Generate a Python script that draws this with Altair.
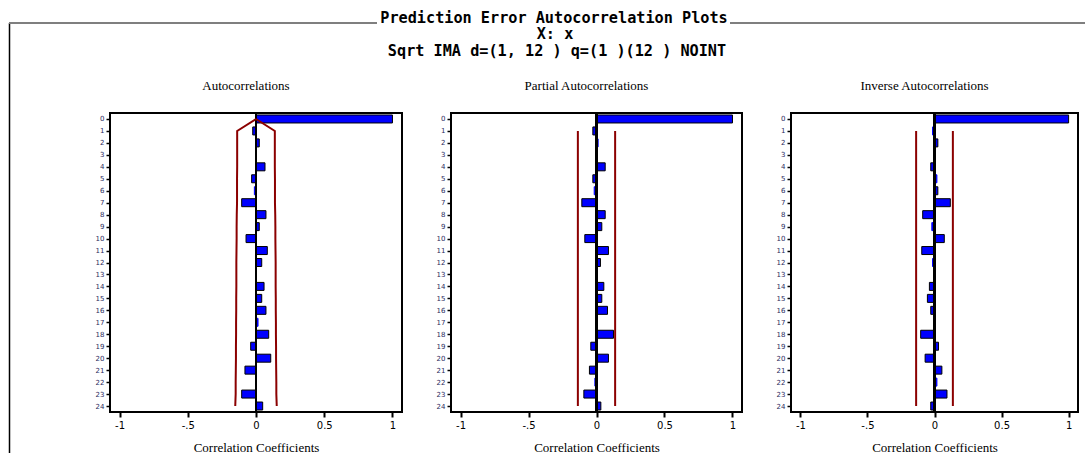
import altair as alt
import pandas as pd

# ---------------- data ----------------
lags = list(range(25))
acf_values = [1.0, -0.024, 0.024, 0.003, 0.066, -0.032, -0.012, -0.105, 0.073, 0.024,
              -0.073, 0.083, 0.042, 0.003, 0.059, 0.042, 0.073, 0.015, 0.093, -0.039,
              0.108, -0.081, 0.003, -0.105, 0.049]
pacf_values = [1.0, -0.027, 0.012, 0.003, 0.064, -0.027, -0.017, -0.108, 0.064, 0.039,
               -0.086, 0.088, 0.029, 0.003, 0.054, 0.039, 0.081, 0.003, 0.125, -0.042,
               0.088, -0.052, -0.012, -0.093, 0.032]
iacf_values = [1.0, -0.015, 0.025, 0.003, -0.028, 0.018, 0.025, 0.118, -0.088, -0.020,
               0.073, -0.095, -0.015, 0.002, -0.038, -0.053, -0.028, 0.002, -0.103, 0.030,
               -0.070, 0.055, 0.018, 0.093, -0.028]
# two standard-error limits of the autocorrelations (lag 0 .. 24)
acf_limit = [0.0, 0.138, 0.138, 0.138, 0.138, 0.139, 0.139, 0.139, 0.141, 0.142,
             0.142, 0.143, 0.144, 0.144, 0.144, 0.145, 0.145, 0.146, 0.146, 0.147,
             0.147, 0.148, 0.149, 0.149, 0.152]
pacf_limit = 0.137
iacf_limit = 0.137
limit_lags = [1, 24]

x_tick_values = [-1, -0.5, 0, 0.5, 1]
x_tick_labels = ["-1", "-.5", "0", "0.5", "1"]

panel_titles = ["Autocorrelations", "Partial Autocorrelations", "Inverse Autocorrelations"]
main_title = "Prediction Error Autocorrelation Plots"
sub_lines = ["X: x", "Sqrt IMA d=(1, 12 ) q=(1 )(12 ) NOINT"]

# ---------------- styling ----------------
X_DOMAIN = [-1.07, 1.07]
Y_DOMAIN = [-0.5, 24.5]
H = 299
BAR_BLUE = "#0000ff"
LIMIT_RED = "#8b0000"
SERIF = "Liberation Serif"

label_expr = " : ".join(
    f"datum.value == {v} ? '{l}'" for v, l in zip(x_tick_values, x_tick_labels)
) + " : datum.label"

X_AXIS = alt.Axis(
    values=x_tick_values, labelExpr=label_expr, title="Correlation Coefficients",
    titleFont=SERIF, titleFontSize=13, titleFontWeight="normal", titlePadding=11,
    titleColor="black",
    labelFont="DejaVu Sans", labelFontSize=10, labelColor="black", labelPadding=3,
    tickSize=5, tickWidth=2, tickColor="black", domain=False, grid=False,
)
Y_AXIS = alt.Axis(
    values=lags, title=None, labelFont="DejaVu Sans", labelFontSize=7,
    labelColor="#2b2b5e", labelPadding=2, tickSize=4, tickWidth=1.5,
    tickColor="black", domain=False, grid=False, labelFlush=False,
    labelOverlap=False, labelBound=False,
)
X_SCALE = alt.Scale(domain=X_DOMAIN, nice=False, zero=False, padding=0)
Y_SCALE = alt.Scale(domain=Y_DOMAIN, reverse=True, nice=False, zero=False, padding=0)


def xe(field):
    return alt.X(f"{field}:Q", scale=X_SCALE, axis=X_AXIS)


def ye(field):
    return alt.Y(f"{field}:Q", scale=Y_SCALE, axis=Y_AXIS)


hdr = pd.DataFrame({"k": [0]})


def panel(title, values, width, limit_layer, extra=None):
    df = pd.DataFrame({"lag": lags, "r": values})
    bars = alt.Chart(df).mark_bar(orient="horizontal", size=8, color=BAR_BLUE,
                                  strokeWidth=1).encode(
        x=alt.X("r:Q", scale=X_SCALE, axis=X_AXIS, stack=None),
        y=ye("lag"),
        stroke=alt.condition("abs(datum.r) > 0.02", alt.value("black"), alt.value(BAR_BLUE)),
    )
    zero = alt.Chart(df).mark_rule(color="black", strokeWidth=2).encode(
        x=alt.datum(0, scale=X_SCALE, axis=X_AXIS))
    ttl = alt.Chart(hdr).mark_text(text=title, font=SERIF, fontSize=13, color="black",
                                   align="center", baseline="middle").encode(
        x=alt.value(width / 2 - 10), y=alt.value(-27))
    layers = [bars, zero, limit_layer, ttl]
    if extra is not None:
        layers += extra
    return alt.layer(*layers).properties(width=width, height=H)


# ACF limits: lines through lag 0
acf_lim_df = pd.DataFrame({
    "lag": lags + lags,
    "lim": acf_limit + [-v for v in acf_limit],
    "side": ["upper"] * 25 + ["lower"] * 25,
})
acf_lim = alt.Chart(acf_lim_df).mark_line(color=LIMIT_RED, strokeWidth=2).encode(
    x=xe("lim"), y=ye("lag"), detail="side:N", order="lag:Q"
)


def flat_limits(limit):
    df = pd.DataFrame({"lim": [limit, -limit],
                       "lag_start": [limit_lags[0]] * 2, "lag_end": [limit_lags[1]] * 2})
    return alt.Chart(df).mark_rule(color=LIMIT_RED, strokeWidth=2).encode(
        x=xe("lim"), y=ye("lag_start"), y2="lag_end:Q"
    )


# header decorations drawn relative to the first panel
frame_v = alt.Chart(hdr).mark_rule(color="black", strokeWidth=1.5).encode(
    x=alt.value(-100.5), y=alt.value(-90), y2=alt.value(340))
frame_h1 = alt.Chart(hdr).mark_rule(color="#7f7f7f", strokeWidth=2).encode(
    x=alt.value(-101), x2=alt.value(267), y=alt.value(-90))
frame_h2 = alt.Chart(hdr).mark_rule(color="#7f7f7f", strokeWidth=2).encode(
    x=alt.value(620), x2=alt.value(975), y=alt.value(-90))
mono = dict(font="DejaVu Sans Mono", fontWeight="bold", fontSize=15.2, align="center",
            baseline="alphabetic", color="black")
t_main = alt.Chart(hdr).mark_text(text=main_title, **mono).encode(
    x=alt.value(444), y=alt.value(-90))
t_sub1 = alt.Chart(hdr).mark_text(text=sub_lines[0], **mono).encode(
    x=alt.value(445), y=alt.value(-74))
t_sub2 = alt.Chart(hdr).mark_text(text=sub_lines[1], **mono).encode(
    x=alt.value(447), y=alt.value(-57))

p1 = panel(panel_titles[0], acf_values, 292, acf_lim,
           extra=[frame_v, frame_h1, frame_h2, t_main, t_sub1, t_sub2])
p2 = panel(panel_titles[1], pacf_values, 291, flat_limits(pacf_limit))
p3 = panel(panel_titles[2], iacf_values, 287, flat_limits(iacf_limit))

chart = alt.hconcat(p1, p2, p3, spacing=49, bounds="flush").properties(
    padding={"left": 7, "top": 10, "right": 0, "bottom": 0},
    background="white",
).configure_view(stroke="black", strokeWidth=2)

chart.save("out.html", embed_options={"renderer": "svg", "actions": False})
